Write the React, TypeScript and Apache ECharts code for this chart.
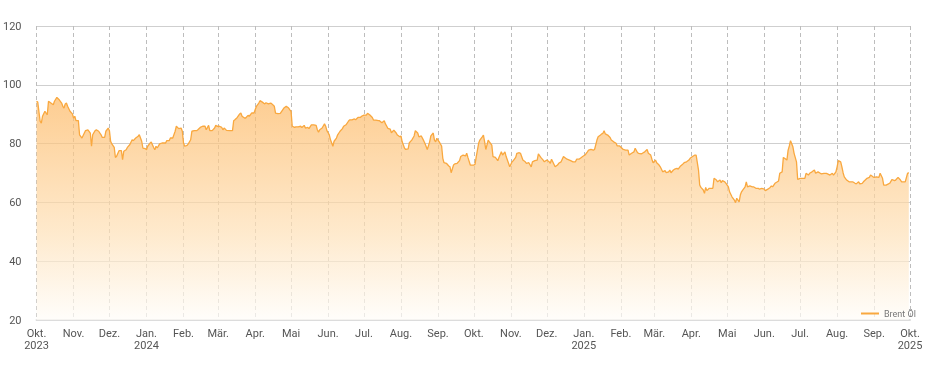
import React, { useEffect, useRef } from "react";
import * as echarts from "echarts";

const SERIES_NAME = "Brent Öl";
const MONTH_LABELS = ["Jan.", "Feb.", "Mär.", "Apr.", "Mai", "Jun.", "Jul.", "Aug.", "Sep.", "Okt.", "Nov.", "Dez."];
const X_MIN = "2023-10-01";
const X_MAX = "2025-10-01";
const Y_MIN = 20;
const Y_MAX = 120;
const Y_STEP = 20;

const dates2023 = [
  "2023-10-01","2023-10-02","2023-10-04","2023-10-05","2023-10-06","2023-10-08","2023-10-10","2023-10-11","2023-10-13","2023-10-15",
  "2023-10-16","2023-10-18","2023-10-20","2023-10-22","2023-10-23","2023-10-24","2023-10-25","2023-10-26","2023-10-27","2023-10-29",
  "2023-10-31","2023-11-01","2023-11-02","2023-11-03","2023-11-05","2023-11-06","2023-11-08","2023-11-10","2023-11-11","2023-11-13",
  "2023-11-15","2023-11-16","2023-11-17","2023-11-19","2023-11-20","2023-11-22","2023-11-24","2023-11-25","2023-11-27","2023-11-28",
  "2023-11-30","2023-12-01","2023-12-02","2023-12-03","2023-12-05","2023-12-06","2023-12-07","2023-12-09","2023-12-11","2023-12-12",
  "2023-12-13","2023-12-15","2023-12-16","2023-12-18","2023-12-20","2023-12-21","2023-12-23","2023-12-25","2023-12-26","2023-12-28",
  "2023-12-29","2023-12-31"
];
const prices2023 = [
  94.4,94.1,87.6,87.0,89.3,91.0,89.8,94.4,93.8,93.2,
  94.4,95.7,94.9,93.8,92.7,92.1,93.5,93.8,92.7,91.0,
  90.1,88.7,89.3,87.8,87.8,83.0,81.9,83.6,84.4,84.7,
  83.6,79.1,83.0,84.4,84.7,84.2,83.0,82.1,82.1,84.2,
  85.3,84.4,80.8,79.9,78.7,75.3,75.7,77.6,77.6,74.5,
  77.4,77.9,78.7,79.6,81.3,81.0,81.9,82.5,83.0,80.8,
  78.5,78.3
];

const dates2024 = [
  "2024-01-01","2024-01-02","2024-01-04","2024-01-05","2024-01-07","2024-01-08","2024-01-09","2024-01-10","2024-01-12","2024-01-14",
  "2024-01-17","2024-01-18","2024-01-20","2024-01-21","2024-01-23","2024-01-25","2024-01-26","2024-01-28","2024-01-30","2024-01-31",
  "2024-02-01","2024-02-02","2024-02-04","2024-02-05","2024-02-07","2024-02-08","2024-02-10","2024-02-12","2024-02-13","2024-02-15",
  "2024-02-17","2024-02-19","2024-02-20","2024-02-22","2024-02-23","2024-02-25","2024-02-27","2024-02-28","2024-02-29","2024-03-02",
  "2024-03-04","2024-03-05","2024-03-06","2024-03-08","2024-03-11","2024-03-13","2024-03-14","2024-03-15","2024-03-17","2024-03-19",
  "2024-03-20","2024-03-21","2024-03-23","2024-03-24","2024-03-26","2024-03-27","2024-03-29","2024-03-31","2024-04-02","2024-04-04",
  "2024-04-05","2024-04-07","2024-04-09","2024-04-10","2024-04-12","2024-04-14","2024-04-15","2024-04-17","2024-04-18","2024-04-20",
  "2024-04-22","2024-04-24","2024-04-25","2024-04-27","2024-04-29","2024-04-30","2024-05-01","2024-05-02","2024-05-04","2024-05-05",
  "2024-05-07","2024-05-09","2024-05-10","2024-05-12","2024-05-13","2024-05-15","2024-05-16","2024-05-18","2024-05-20","2024-05-22",
  "2024-05-23","2024-05-24","2024-05-25","2024-05-27","2024-05-29","2024-05-30","2024-05-31","2024-06-02","2024-06-03","2024-06-05",
  "2024-06-06","2024-06-08","2024-06-09","2024-06-11","2024-06-13","2024-06-14","2024-06-16","2024-06-18","2024-06-19","2024-06-21",
  "2024-06-23","2024-06-24","2024-06-26","2024-06-28","2024-06-29","2024-07-01","2024-07-03","2024-07-04","2024-07-06","2024-07-08",
  "2024-07-09","2024-07-11","2024-07-13","2024-07-14","2024-07-16","2024-07-18","2024-07-19","2024-07-21","2024-07-23","2024-07-24",
  "2024-07-26","2024-07-28","2024-07-29","2024-07-31","2024-08-01","2024-08-02","2024-08-04","2024-08-05","2024-08-07","2024-08-08",
  "2024-08-10","2024-08-12","2024-08-13","2024-08-15","2024-08-16","2024-08-18","2024-08-20","2024-08-21","2024-08-23","2024-08-25",
  "2024-08-26","2024-08-28","2024-08-29","2024-08-30","2024-08-31","2024-09-02","2024-09-04","2024-09-05","2024-09-06","2024-09-08",
  "2024-09-10","2024-09-11","2024-09-12","2024-09-14","2024-09-15","2024-09-17","2024-09-19","2024-09-20","2024-09-22","2024-09-24",
  "2024-09-25","2024-09-26","2024-09-28","2024-10-01","2024-10-02","2024-10-03","2024-10-05","2024-10-06","2024-10-08","2024-10-09",
  "2024-10-10","2024-10-11","2024-10-13","2024-10-14","2024-10-16","2024-10-17","2024-10-19","2024-10-21","2024-10-22","2024-10-24",
  "2024-10-25","2024-10-27","2024-10-28","2024-10-30","2024-10-31","2024-11-02","2024-11-03","2024-11-05","2024-11-06","2024-11-08",
  "2024-11-09","2024-11-11","2024-11-13","2024-11-14","2024-11-16","2024-11-18","2024-11-19","2024-11-21","2024-11-23","2024-11-24",
  "2024-11-26","2024-11-28","2024-11-29","2024-12-01","2024-12-03","2024-12-04","2024-12-05","2024-12-07","2024-12-08","2024-12-10",
  "2024-12-11","2024-12-13","2024-12-15","2024-12-16","2024-12-18","2024-12-20","2024-12-21","2024-12-23","2024-12-25","2024-12-26",
  "2024-12-28","2024-12-30","2024-12-31"
];
const prices2024 = [
  77.9,79.1,80.2,80.5,78.7,77.9,79.1,78.5,79.9,80.2,
  80.2,81.0,81.0,81.9,81.9,84.2,85.9,85.1,85.3,84.2,
  80.2,79.1,79.4,79.9,81.3,84.2,84.4,84.4,84.7,85.5,
  85.9,85.9,84.7,86.2,84.4,84.4,85.3,86.2,85.9,85.9,
  85.5,84.7,85.3,84.5,84.4,84.4,87.8,88.1,88.9,90.1,
  90.4,89.3,88.7,88.7,89.6,89.3,90.4,90.4,92.7,93.8,
  94.6,94.1,93.5,93.9,93.5,93.8,93.5,92.7,90.4,90.2,
  90.3,91.5,92.1,92.7,92.1,91.5,91.0,85.9,85.5,85.7,
  85.7,85.9,85.5,86.2,85.3,85.5,85.1,86.4,86.4,86.2,
  84.7,83.9,84.7,85.3,86.7,85.9,84.4,83.0,81.3,79.1,
  80.8,81.9,83.0,84.2,85.1,85.9,86.4,87.6,88.1,88.1,
  88.4,88.1,88.9,88.9,89.3,89.7,89.7,90.3,89.7,88.9,
  88.0,88.0,87.8,87.8,87.1,87.8,86.7,85.2,84.9,83.7,
  84.6,83.6,82.9,82.3,82.6,80.6,78.4,78.0,78.2,80.3,
  81.2,82.6,84.4,83.6,82.3,82.6,81.0,80.1,78.0,80.6,
  82.6,83.6,81.2,80.6,81.8,80.6,79.2,75.0,73.5,73.3,
  72.4,72.1,70.1,72.7,73.1,73.3,74.2,75.6,76.1,75.8,
  76.7,75.3,72.7,72.7,73.0,75.6,80.1,81.2,82.3,82.9,
  80.6,78.0,81.2,80.6,79.5,75.6,75.3,74.2,75.3,77.2,
  76.1,77.2,75.6,73.3,72.1,73.8,74.2,75.3,76.7,76.9,
  76.7,74.4,73.8,73.3,73.5,72.1,73.8,74.2,74.4,76.5,
  75.3,74.4,73.8,74.4,73.8,73.3,74.7,73.0,72.1,72.7,
  73.3,73.8,75.6,75.3,74.7,74.4,74.2,73.8,73.8,74.7,
  74.7,75.3,75.6
];

const dates2025 = [
  "2025-01-02","2025-01-04","2025-01-05","2025-01-07","2025-01-09","2025-01-10","2025-01-12","2025-01-13","2025-01-15","2025-01-16",
  "2025-01-17","2025-01-18","2025-01-19","2025-01-21","2025-01-23","2025-01-24","2025-01-26","2025-01-28","2025-01-29","2025-01-31",
  "2025-02-02","2025-02-03","2025-02-05","2025-02-07","2025-02-08","2025-02-10","2025-02-12","2025-02-13","2025-02-15","2025-02-16",
  "2025-02-18","2025-02-19","2025-02-21","2025-02-23","2025-02-24","2025-02-26","2025-02-27","2025-02-28","2025-03-02","2025-03-03",
  "2025-03-05","2025-03-06","2025-03-08","2025-03-10","2025-03-11","2025-03-13","2025-03-14","2025-03-15","2025-03-17","2025-03-18",
  "2025-03-20","2025-03-21","2025-03-23","2025-03-25","2025-03-26","2025-03-28","2025-03-30","2025-03-31","2025-04-02","2025-04-04",
  "2025-04-05","2025-04-07","2025-04-08","2025-04-09","2025-04-11","2025-04-12","2025-04-13","2025-04-14","2025-04-16","2025-04-17",
  "2025-04-19","2025-04-20","2025-04-22","2025-04-23","2025-04-25","2025-04-26","2025-04-27","2025-04-29","2025-04-30","2025-05-02",
  "2025-05-03","2025-05-05","2025-05-07","2025-05-08","2025-05-09","2025-05-11","2025-05-12","2025-05-13","2025-05-14","2025-05-16",
  "2025-05-17","2025-05-18","2025-05-20","2025-05-22","2025-05-23","2025-05-25","2025-05-27","2025-05-28","2025-05-30","2025-06-01",
  "2025-06-02","2025-06-04","2025-06-06","2025-06-07","2025-06-08","2025-06-10","2025-06-12","2025-06-13","2025-06-14","2025-06-16",
  "2025-06-17","2025-06-18","2025-06-20","2025-06-21","2025-06-22","2025-06-23","2025-06-25","2025-06-26","2025-06-28","2025-06-29",
  "2025-07-01","2025-07-03","2025-07-05","2025-07-06","2025-07-08","2025-07-09","2025-07-11","2025-07-13","2025-07-14","2025-07-16",
  "2025-07-18","2025-07-19","2025-07-21","2025-07-23","2025-07-24","2025-07-26","2025-07-28","2025-07-29","2025-07-31","2025-08-01",
  "2025-08-02","2025-08-04","2025-08-05","2025-08-06","2025-08-07","2025-08-09","2025-08-11","2025-08-12","2025-08-14","2025-08-16",
  "2025-08-17","2025-08-19","2025-08-20","2025-08-22","2025-08-23","2025-08-25","2025-08-26","2025-08-28","2025-08-29","2025-08-31",
  "2025-09-01","2025-09-03","2025-09-05","2025-09-06","2025-09-08","2025-09-09","2025-09-11","2025-09-13","2025-09-14","2025-09-16",
  "2025-09-18","2025-09-19","2025-09-21","2025-09-23","2025-09-24","2025-09-26","2025-09-27","2025-09-29","2025-09-30"
];
const prices2025 = [
  76.1,77.2,77.8,78.0,77.8,78.0,81.2,82.3,82.9,83.3,
  83.5,84.4,83.3,82.9,82.1,81.2,80.6,80.1,79.2,79.2,
  78.4,78.0,77.8,77.8,76.1,76.7,77.2,78.4,76.9,76.7,
  76.5,76.7,77.2,78.0,76.7,76.1,74.7,73.5,74.4,73.5,
  72.7,72.1,70.4,70.8,70.1,70.4,71.0,70.1,71.0,71.3,
  71.6,71.3,72.4,73.1,73.5,73.8,74.4,75.0,75.6,76.1,
  76.1,71.0,65.9,65.1,64.2,63.1,65.1,64.0,64.8,64.8,
  64.8,68.2,67.6,67.0,67.6,66.7,67.4,67.0,66.5,65.3,
  63.6,61.9,60.8,59.9,61.4,60.2,62.5,63.6,64.2,65.3,
  67.0,65.3,65.6,65.3,65.3,64.8,64.8,64.5,64.8,64.5,
  64.0,64.5,65.1,65.6,65.3,66.5,67.0,67.3,69.9,70.4,
  75.3,75.0,74.4,77.8,79.2,81.0,78.9,76.7,73.8,67.8,
  68.2,68.2,68.2,69.9,69.3,69.9,70.4,71.0,69.9,70.4,
  69.9,69.7,69.9,69.9,69.7,69.3,69.9,69.3,70.4,72.1,
  74.2,73.8,72.1,70.1,68.7,67.6,67.0,67.0,67.0,66.5,
  66.3,67.0,66.3,66.5,67.0,67.8,68.2,68.5,69.3,68.7,
  68.5,68.7,68.5,69.9,68.2,65.9,65.9,66.3,66.5,67.8,
  67.4,67.6,68.5,67.6,67.0,67.0,67.0,69.9,70.1
];

const dates = [...dates2023, ...dates2024, ...dates2025];
const prices = [...prices2023, ...prices2024, ...prices2025];

export default function App() {
  const ref = useRef<HTMLDivElement>(null);

  useEffect(() => {
    if (!ref.current) return;
    const chart = echarts.init(ref.current, undefined, { renderer: "svg" });
    const minTs = new Date(X_MIN + "T00:00:00").getTime();
    const maxTs = new Date(X_MAX + "T00:00:00").getTime();
    const DAY = 86400000;
    const seriesData = dates.map((d, i) => [d, prices[i]]);

    chart.setOption({
      animation: false,
      textStyle: { fontFamily: "Roboto, 'Noto Sans', sans-serif" },
      grid: { left: 33, right: 20, top: 26, bottom: 50, containLabel: false },
      legend: {
        data: [SERIES_NAME],
        left: 856,
        top: 304,
        icon: "rect",
        itemWidth: 18,
        itemHeight: 2,
        textStyle: { fontSize: 9, color: "#777" },
      },
      xAxis: {
        type: "time",
        min: minTs,
        max: maxTs,
        splitNumber: 24,
        minInterval: 28 * DAY,
        maxInterval: 31 * DAY,
        axisLine: { show: true, lineStyle: { color: "#dcdcdc", width: 2 } },
        axisTick: { show: false },
        splitLine: { show: true, lineStyle: { color: "#bdbdbd", width: 1, type: [4, 3] } },
        axisLabel: {
          color: "#555",
          fontSize: 11,
          lineHeight: 12,
          margin: 7,
          hideOverlap: false,
          showMinLabel: true,
          showMaxLabel: true,
          formatter: (value: number) => {
            const d = new Date(value);
            const m = d.getMonth();
            const withYear = m === 0 || Math.abs(value - minTs) < DAY || Math.abs(value - maxTs) < DAY;
            return MONTH_LABELS[m] + (withYear ? "\n" + d.getFullYear() : "");
          },
        },
      },
      yAxis: {
        type: "value",
        min: Y_MIN,
        max: Y_MAX,
        interval: Y_STEP,
        axisLine: { show: false },
        axisTick: { show: false },
        splitLine: { lineStyle: { color: "#cfcfcf", width: 1 } },
        axisLabel: { color: "#555", fontSize: 11, margin: 15 },
      },
      series: [
        {
          name: SERIES_NAME,
          type: "line",
          data: seriesData,
          symbol: "none",
          showSymbol: false,
          lineStyle: { color: "#f9a83f", width: 1.3 },
          itemStyle: { color: "#f9a83f" },
          areaStyle: {
            color: new echarts.graphic.LinearGradient(0, 0, 0, 1, [
              { offset: 0, color: "#fdb863" },
              { offset: 0.6, color: "#fee0b6" },
              { offset: 1, color: "#fffdf9" },
            ]),
          },
        },
      ],
    });
    return () => chart.dispose();
  }, []);

  return (
    <div
      ref={ref}
      style={{ position: "fixed", left: 0, top: 0, width: 930, height: 370 }}
    />
  );
}
